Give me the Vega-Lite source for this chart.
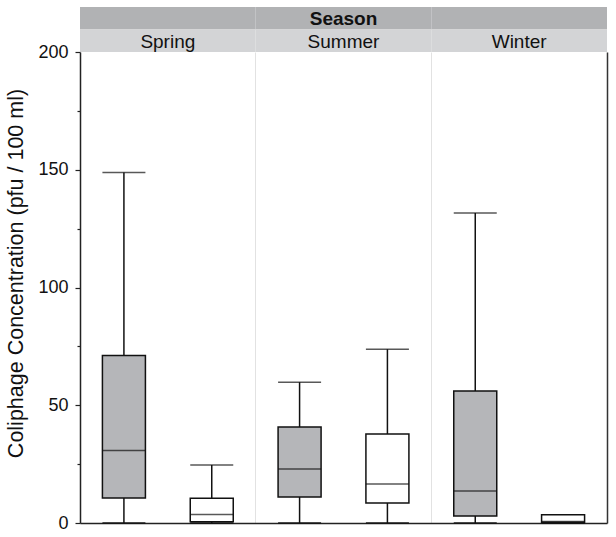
{
  "$schema": "https://vega.github.io/schema/vega-lite/v6.json",
  "padding": {"left": 5, "top": 7, "right": 6, "bottom": 0},
  "spacing": 0,
  "bounds": "flush",
  "config": {
    "font": "Liberation Sans",
    "view": {"stroke": null}
  },
  "datasets": {
    "boxes": [
      {"season": "Spring", "group": "A", "lower": 0, "q1": 10.6, "median": 30.8, "q3": 71.1, "upper": 148.8},
      {"season": "Spring", "group": "B", "lower": 0, "q1": 0.5, "median": 3.6, "q3": 10.5, "upper": 24.6},
      {"season": "Summer", "group": "A", "lower": 0, "q1": 11, "median": 22.9, "q3": 40.8, "upper": 59.8},
      {"season": "Summer", "group": "B", "lower": 0, "q1": 8.5, "median": 16.6, "q3": 37.8, "upper": 73.8},
      {"season": "Winter", "group": "A", "lower": 0, "q1": 3, "median": 13.6, "q3": 56, "upper": 131.6},
      {"season": "Winter", "group": "B", "lower": 0, "q1": 0.3, "median": 0.6, "q3": 3.5, "upper": 0}
    ],
    "header": [
      {"season": "Spring", "row": "top", "text": ""},
      {"season": "Summer", "row": "top", "text": "Season"},
      {"season": "Winter", "row": "top", "text": ""},
      {"season": "Spring", "row": "sub", "text": "Spring"},
      {"season": "Summer", "row": "sub", "text": "Summer"},
      {"season": "Winter", "row": "sub", "text": "Winter"}
    ]
  },
  "vconcat": [
    {
      "width": 527,
      "height": 45,
      "data": {"name": "header"},
      "encoding": {
        "x": {"field": "season", "type": "nominal", "scale": {"domain": ["Spring", "Summer", "Winter"], "paddingInner": 0, "paddingOuter": 0}, "axis": null},
        "y": {"field": "row", "type": "nominal", "scale": {"domain": ["top", "sub"], "paddingInner": 0, "paddingOuter": 0}, "axis": null}
      },
      "layer": [
        {
          "mark": {"type": "rect"},
          "encoding": {
            "color": {"field": "row", "type": "nominal", "scale": {"domain": ["top", "sub"], "range": ["#b1b2b4", "#d3d4d6"]}, "legend": null}
          }
        },
        {
          "transform": [{"filter": "datum.row === 'top'"}],
          "mark": {"type": "text", "fontSize": 19, "fontWeight": "bold", "color": "#111", "baseline": "middle", "dy": 1},
          "encoding": {"text": {"field": "text"}}
        },
        {
          "transform": [{"filter": "datum.row === 'sub'"}],
          "mark": {"type": "text", "fontSize": 19, "fontWeight": "normal", "color": "#111", "baseline": "middle", "dy": 1},
          "encoding": {"text": {"field": "text"}}
        }
      ]
    },
    {
      "width": 527,
      "height": 471,
      "data": {"name": "boxes"},
      "encoding": {
        "x": {
          "field": "season", "type": "nominal",
          "scale": {"domain": ["Spring", "Summer", "Winter"], "paddingInner": 0, "paddingOuter": 0},
          "axis": {
            "title": null, "labels": false, "ticks": false, "domain": true, "domainColor": "#222", "domainWidth": 1.5,
            "grid": true, "bandPosition": 1,
            "gridColor": {"condition": {"test": "datum.value === 'Winter'", "value": "#333"}, "value": "#e2e2e2"},
            "gridWidth": {"condition": {"test": "datum.value === 'Winter'", "value": 1.5}, "value": 1}
          }
        }
      },
      "layer": [
        {
          "mark": {"type": "rule", "color": "#111", "strokeWidth": 1.5},
          "encoding": {
            "xOffset": {"field": "group", "type": "nominal", "scale": {"domain": ["A", "B"], "paddingInner": 0, "paddingOuter": 0}},
            "y": {
              "field": "lower", "type": "quantitative",
              "scale": {"domain": [0, 200], "nice": false},
              "axis": {
                "title": "Coliphage Concentration (pfu / 100 ml)",
                "titleFontSize": 21.5, "titleFontWeight": "normal", "titleColor": "#111", "titlePadding": 10,
                "titleY": 221,
                "values": [0, 25, 50, 75, 100, 125, 150, 175, 200],
                "labelExpr": "datum.value % 50 === 0 ? datum.label : ''",
                "labelFontSize": 18, "labelColor": "#111", "labelPadding": 7,
                "tickSize": {"condition": {"test": "datum.value % 50 === 0", "value": 5}, "value": 3},
                "tickColor": "#222", "tickWidth": 1.2,
                "domainColor": "#222", "domainWidth": 1.5,
                "grid": false
              }
            },
            "y2": {"field": "upper"}
          }
        },
        {
          "mark": {"type": "bar", "size": 43, "stroke": "#111", "strokeWidth": 1.5},
          "encoding": {
            "xOffset": {"field": "group", "type": "nominal"},
            "y": {"field": "q1", "type": "quantitative"},
            "y2": {"field": "q3"},
            "fill": {"field": "group", "type": "nominal", "scale": {"domain": ["A", "B"], "range": ["#b5b6b9", "#ffffff"]}, "legend": null}
          }
        },
        {
          "mark": {"type": "tick", "size": 43, "thickness": 1.5, "color": "#111", "orient": "horizontal"},
          "encoding": {"xOffset": {"field": "group", "type": "nominal"}, "y": {"field": "median", "type": "quantitative"}}
        },
        {
          "mark": {"type": "tick", "size": 43, "thickness": 1.5, "color": "#111", "orient": "horizontal"},
          "encoding": {"xOffset": {"field": "group", "type": "nominal"}, "y": {"field": "upper", "type": "quantitative"}}
        },
        {
          "mark": {"type": "tick", "size": 43, "thickness": 2, "color": "#111", "orient": "horizontal"},
          "encoding": {"xOffset": {"field": "group", "type": "nominal"}, "y": {"field": "lower", "type": "quantitative"}}
        }
      ]
    }
  ]
}
